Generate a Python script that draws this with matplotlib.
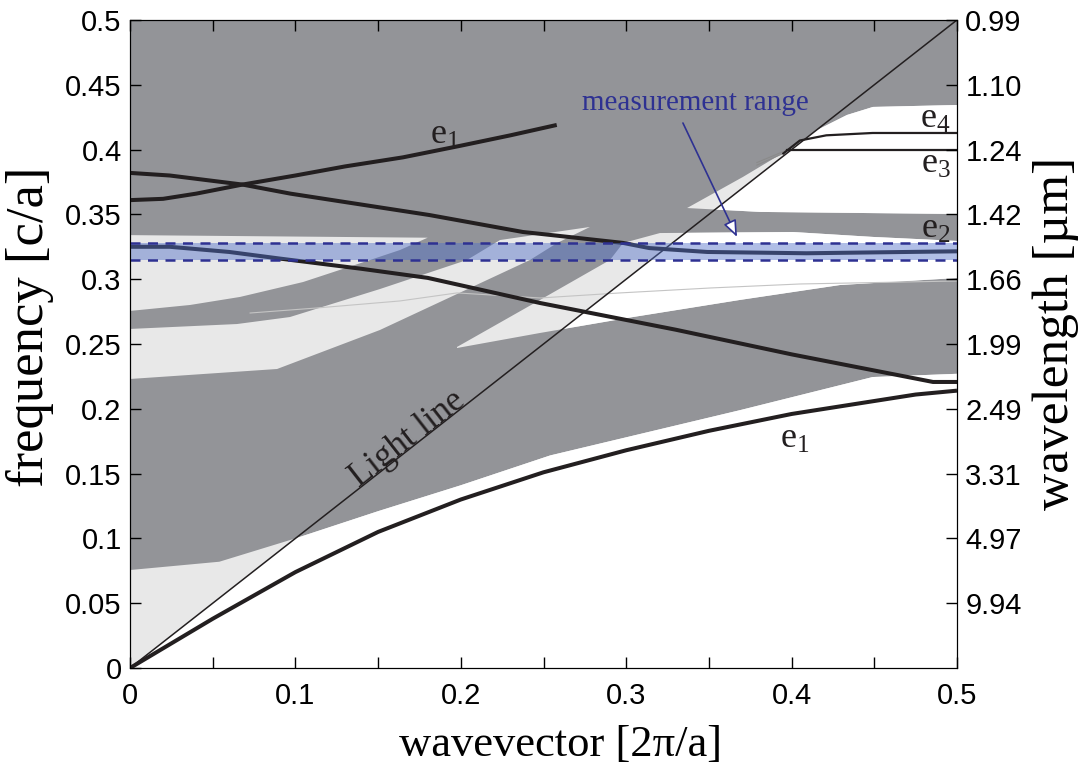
import matplotlib
matplotlib.use("Agg")
import matplotlib.pyplot as plt
from matplotlib.patches import Polygon

GRAY = "#939498"
LIGHT = "#e8e8e8"
BLUE = "#2e3192"
BAND_FILL = "#5070c8"
LINE = "#231f20"

# lower boundary of the lowest projected band (bottom gap below it)
gap1_k = [0, 0, 0.054, 0.1, 0.15, 0.2, 0.254, 0.369, 0.449, 0.5, 0.5]
gap1_f = [0, 0.0756, 0.082, 0.1, 0.121, 0.141, 0.164, 0.199, 0.2245, 0.227, 0]

# upper-left gap
gapA_k = [0, 0.18, 0.1796, 0.1632, 0.1451, 0.1046, 0.0665, 0.0363, 0]
gapA_f = [0.334, 0.332, 0.3318, 0.3225, 0.3148, 0.2978, 0.2863, 0.2801, 0.2755]

# slanted gap between the two tilted bands
gapB_k = [0, 0.0647, 0.0967, 0.1511, 0.2037, 0.2237, 0.2781, 0.2582, 0.2418, 0.1511, 0.0889, 0]
gapB_f = [0.2616, 0.2654, 0.2708, 0.2924, 0.3148, 0.3302, 0.3403, 0.3279, 0.3148, 0.2608, 0.2307, 0.223]

# gap around the measurement range
gapC_k = [0.1977, 0.2479, 0.2902, 0.2981, 0.3204, 0.4008, 0.4492, 0.5, 0.5,
          0.4293, 0.3688, 0.3041, 0.2479, 0.1977]
gapC_f = [0.2477, 0.284, 0.3148, 0.3279, 0.3356, 0.3364, 0.3326, 0.3295, 0.3009,
          0.2955, 0.284, 0.2708, 0.2585, 0.2469]

# upper-right gap holding e3 / e4
gapE_k = [0.3368, 0.3706, 0.4008, 0.4154, 0.4335, 0.4492, 0.5, 0.5, 0.3809]
gapE_f = [0.3549, 0.3789, 0.402, 0.4151, 0.4267, 0.4329, 0.4344, 0.3503, 0.3519]

# guided modes
e1_k = [0, 0.025, 0.05, 0.1, 0.15, 0.2, 0.25, 0.3, 0.35, 0.4, 0.45, 0.475, 0.5]
e1_f = [0, 0.019, 0.038, 0.074, 0.105, 0.130, 0.151, 0.168, 0.183, 0.196, 0.206, 0.211, 0.214]

e1up_k = [0, 0.02, 0.04, 0.068, 0.1, 0.13, 0.165, 0.2, 0.23, 0.258]
e1up_f = [0.361, 0.362, 0.366, 0.373, 0.380, 0.387, 0.394, 0.403, 0.411, 0.419]

e2_k = [0, 0.024, 0.068, 0.097, 0.181, 0.2376, 0.2479, 0.298, 0.314, 0.349, 0.409, 0.5]
e2_f = [0.382, 0.380, 0.373, 0.366, 0.3495, 0.3364, 0.335, 0.328, 0.324, 0.321, 0.320, 0.3215]

down_k = [0, 0.024, 0.06, 0.09, 0.14, 0.18, 0.248, 0.33, 0.4, 0.4855, 0.5]
down_f = [0.325, 0.325, 0.321, 0.316, 0.308, 0.301, 0.2816, 0.261, 0.242, 0.2207, 0.2207]

e3_k = [0.397, 0.5]
e3_f = [0.3995, 0.3995]
e4_k = [0.395, 0.405, 0.421, 0.449, 0.5]
e4_f = [0.397, 0.407, 0.411, 0.4128, 0.4128]

faint_k = [0.0726, 0.1131, 0.1632, 0.1977, 0.2479, 0.2963, 0.3507, 0.4051, 0.5]
faint_f = [0.2739, 0.2778, 0.2832, 0.2894, 0.2855, 0.2894, 0.2932, 0.2963, 0.2986]

meas_lo, meas_hi = 0.3148, 0.3279

yticks = [0, 0.05, 0.1, 0.15, 0.2, 0.25, 0.3, 0.35, 0.4, 0.45, 0.5]
ylabels = ["0", "0.05", "0.1", "0.15", "0.2", "0.25", "0.3", "0.35", "0.4", "0.45", "0.5"]
wl_labels = ["9.94", "4.97", "3.31", "2.49", "1.99", "1.66", "1.42", "1.24", "1.10", "0.99"]
xticks = [0, 0.1, 0.2, 0.3, 0.4, 0.5]
xlabels = ["0", "0.1", "0.2", "0.3", "0.4", "0.5"]

SANS = "Liberation Sans"
SERIF = "Liberation Serif"
plt.rcParams["font.family"] = SANS
plt.rcParams["mathtext.fontset"] = "custom"
plt.rcParams["mathtext.rm"] = SERIF
plt.rcParams["mathtext.it"] = SERIF + ":italic"

fig = plt.figure(figsize=(10.8, 7.68), dpi=100)
ax = fig.add_axes([0.1204, 0.1302, 0.7657, 0.8438])
ax.set_facecolor(GRAY)
ax.set_xlim(0, 0.5)
ax.set_ylim(0, 0.5)

# region below the light line shows white instead of light gray
below = Polygon([(0, 0), (0.5, 0.5), (0.5, 0)], transform=ax.transData)
for gk, gf in [(gap1_k, gap1_f), (gapA_k, gapA_f), (gapB_k, gapB_f),
               (gapC_k, gapC_f), (gapE_k, gapE_f)]:
    ax.fill(gk, gf, color=LIGHT, lw=0, zorder=1)
    w = ax.fill(gk, gf, color="white", lw=0, zorder=1.1)[0]
    w.set_clip_path(below)

ax.plot(faint_k, faint_f, color="#c4c4c4", lw=0.8, zorder=1.5)
ax.plot([0.379, 0.397], [0.390, 0.3995], color="#8a8a8a", lw=0.8, zorder=1.5)
ax.plot([0.379, 0.395], [0.388, 0.397], color="#8a8a8a", lw=0.8, zorder=1.5)

for k, f in [(e1_k, e1_f), (e1up_k, e1up_f), (e2_k, e2_f), (down_k, down_f)]:
    ax.plot(k, f, color=LINE, lw=2.9, zorder=3, solid_capstyle="butt")
ax.plot(e3_k, e3_f, color=LINE, lw=1.6, zorder=3)
ax.plot(e4_k, e4_f, color=LINE, lw=1.6, zorder=3)
ax.plot([0, 0.5], [0, 0.5], color=LINE, lw=1.1, zorder=3)

# measurement range
ax.axhspan(meas_lo, meas_hi, color=BAND_FILL, alpha=0.45, lw=0, zorder=4)
for y in (meas_lo, meas_hi):
    ax.axhline(y, color=BLUE, lw=1.8, ls=(0, (4, 3)), zorder=5)

ax.annotate("", xy=(0.367, 0.3326), xytext=(0.3343, 0.4205),
            arrowprops=dict(arrowstyle="-|>,head_length=1.0,head_width=0.4",
                            ec=BLUE, fc="white", lw=1.2, shrinkA=0, shrinkB=0),
            zorder=6)
ax.text(0.342, 0.436, "measurement range", color=BLUE, family=SERIF,
        fontsize=21, ha="center", va="center", zorder=6)

ax.text(0.168, 0.177, "Light line", family=SERIF, fontsize=25, rotation=38,
        ha="center", va="center", color=LINE, zorder=6)
lab = dict(fontsize=26, ha="center", va="center", color=LINE, zorder=6)
ax.text(0.19, 0.412, r"$\mathrm{e}_1$", **lab)
ax.text(0.402, 0.177, r"$\mathrm{e}_1$", **lab)
ax.text(0.487, 0.339, r"$\mathrm{e}_2$", **lab)
ax.text(0.487, 0.389, r"$\mathrm{e}_3$", **lab)
ax.text(0.4867, 0.424, r"$\mathrm{e}_4$", **lab)

ax.set_xticks(xticks)
ax.set_xticklabels(xlabels)
ax.set_xticks([0.05, 0.15, 0.25, 0.35, 0.45], minor=True)
ax.set_yticks(yticks)
ax.set_yticklabels(ylabels)
ax.tick_params(which="both", direction="in", length=8, width=1, top=True,
               labelsize=21, pad=6)
ax.tick_params(axis="x", which="both", pad=10)

ax2 = ax.twinx()
ax2.set_ylim(0, 0.5)
ax2.set_yticks(yticks[1:])
ax2.set_yticklabels(wl_labels)
ax2.tick_params(direction="in", length=8, width=1, labelsize=21, pad=6)

ax.set_xlabel("wavevector [2π/a]", family=SERIF, fontsize=32, va="center")
ax.set_ylabel("frequency [c/a]", family=SERIF, fontsize=38, va="center")
ax2.set_ylabel("wavelength [µm]", family=SERIF, fontsize=37, va="center")
ax.xaxis.set_label_coords(0.52, -0.119)
ax.yaxis.set_label_coords(-0.121, 0.526)
ax2.yaxis.set_label_coords(1.12, 0.516)

fig.savefig("out.png", dpi=100)
